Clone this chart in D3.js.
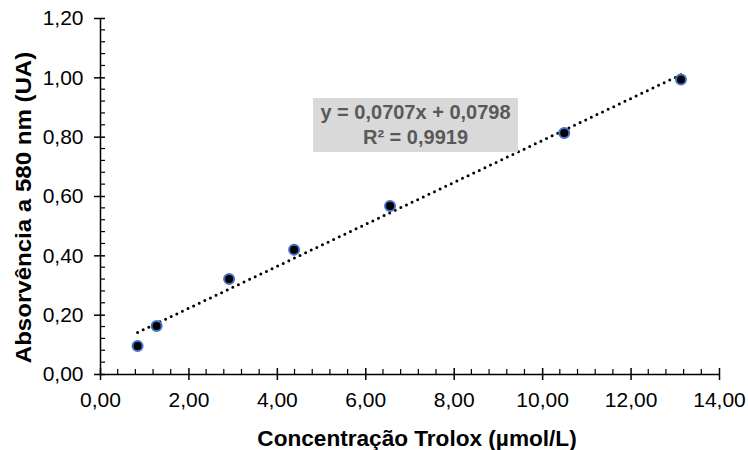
<!DOCTYPE html>
<html>
<head>
<meta charset="utf-8">
<script src="https://cdn.jsdelivr.net/npm/d3@7"></script>
<style>
  html, body { margin: 0; padding: 0; background: #fff; }
  svg { display: block; font-family: "Liberation Sans", Arial, sans-serif; }
</style>
</head>
<body>
<svg id="chart" width="748" height="450"></svg>
<script>
// ---- data ----
const concentration = [0.85, 1.28, 2.92, 4.39, 6.56, 10.50, 13.14];
const absorbance    = [0.094, 0.162, 0.320, 0.419, 0.566, 0.812, 0.993];
const trendSlope = 0.0707;
const trendIntercept = 0.0798;
const trendR2 = 0.9919;
const xTicks = [0, 2, 4, 6, 8, 10, 12, 14];
const yTicks = [0, 0.2, 0.4, 0.6, 0.8, 1.0, 1.2];
const xTitle = "Concentração Trolox (µmol/L)";
const yTitle = "Absorvência a 580 nm (UA)";

(function () {
const fmt = v => v.toFixed(2).replace(".", ",");
const fmt4 = v => v.toFixed(4).replace(".", ",");

const svg = d3.select("#chart");
const mL = 100, mR = 719, mT = 18, mB = 374;

const x = d3.scaleLinear().domain([0, 14]).range([mL, mR]);
const y = d3.scaleLinear().domain([0, 1.2]).range([mB, mT]);

// minor ticks
const xMinor = d3.range(0, 14.0001, 0.4).filter(v => Math.abs(v / 2 - Math.round(v / 2)) > 1e-6);
const yMinor = d3.range(0, 1.2001, 0.04).filter(v => Math.abs(v / 0.2 - Math.round(v / 0.2)) > 1e-6);

const g = svg.append("g");

// x axis
const xAxis = g.append("g").attr("transform", `translate(0,${mB})`)
  .call(d3.axisBottom(x).tickValues(xTicks).tickFormat(fmt).tickSizeInner(6).tickSizeOuter(0).tickPadding(12));
xAxis.select(".domain").attr("stroke", "#000").attr("stroke-width", 1.5);
xAxis.selectAll(".tick line").attr("y1", -6).attr("stroke", "#000").attr("stroke-width", 1.5);
xAxis.selectAll(".tick text").attr("font-size", 21).attr("fill", "#000");
xAxis.selectAll(".minor").data(xMinor).enter().append("line")
  .attr("class", "minor").attr("x1", d => x(d)).attr("x2", d => x(d))
  .attr("y1", 0).attr("y2", -5).attr("stroke", "#000").attr("stroke-width", 1.2);

// y axis
const yAxis = g.append("g").attr("transform", `translate(${mL},0)`)
  .call(d3.axisLeft(y).tickValues(yTicks).tickFormat(fmt).tickSizeInner(6).tickSizeOuter(0).tickPadding(10.5));
yAxis.select(".domain").attr("stroke", "#000").attr("stroke-width", 1.5);
yAxis.selectAll(".tick line").attr("x1", 5).attr("stroke", "#000").attr("stroke-width", 1.5);
yAxis.selectAll(".tick text").attr("font-size", 21).attr("fill", "#000");
yAxis.selectAll(".minor").data(yMinor).enter().append("line")
  .attr("class", "minor").attr("y1", d => y(d)).attr("y2", d => y(d))
  .attr("x1", 0).attr("x2", 5).attr("stroke", "#000").attr("stroke-width", 1.2);

// trendline
const x0 = d3.min(concentration), x1 = d3.max(concentration);
g.append("line")
  .attr("x1", x(x0)).attr("y1", y(trendSlope * x0 + trendIntercept))
  .attr("x2", x(x1)).attr("y2", y(trendSlope * x1 + trendIntercept))
  .attr("stroke", "#000").attr("stroke-width", 3)
  .attr("stroke-linecap", "round").attr("stroke-dasharray", "0 6.2");

// points
g.selectAll(".pt").data(concentration.map((c, i) => [c, absorbance[i]])).enter()
  .append("circle").attr("class", "pt")
  .attr("cx", d => x(d[0])).attr("cy", d => y(d[1])).attr("r", 5)
  .attr("fill", "#000").attr("stroke", "#4472C4").attr("stroke-width", 2);

// equation box
const bx = 313, by = 98, bw = 205, bh = 54;
g.append("rect").attr("x", bx).attr("y", by).attr("width", bw).attr("height", bh).attr("fill", "#D9D9D9");
const eq = g.append("text").attr("text-anchor", "middle").attr("font-size", 20)
  .attr("font-weight", "bold").attr("fill", "#595959");
eq.append("tspan").attr("x", bx + bw / 2).attr("y", 119)
  .text(`y = ${fmt4(trendSlope)}x + ${fmt4(trendIntercept)}`);
eq.append("tspan").attr("x", bx + bw / 2).attr("y", 144)
  .text(`R² = ${fmt4(trendR2)}`);

// titles
g.append("text").attr("x", 417).attr("y", 445.5).attr("text-anchor", "middle")
  .attr("font-size", 22.6).attr("font-weight", "bold").attr("fill", "#000").text(xTitle);
g.append("text").attr("transform", "translate(31,207.5) rotate(-90) scale(1.065,1)").attr("text-anchor", "middle")
  .attr("font-size", 22.6).attr("font-weight", "bold").attr("fill", "#000").text(yTitle);
})();
</script>
</body>
</html>
